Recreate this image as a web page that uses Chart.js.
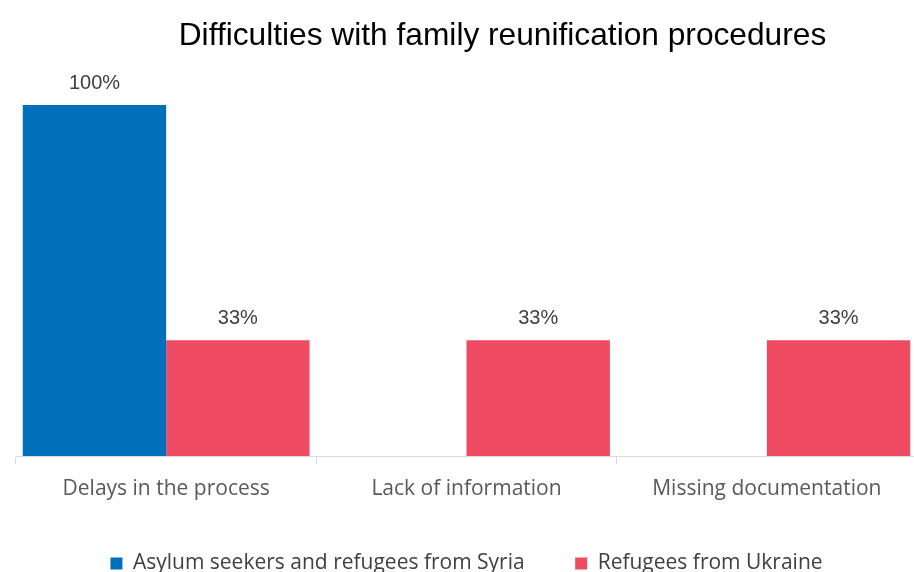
<!DOCTYPE html>
<html>
<head>
  <title>Difficulties with family reunification procedures</title>
  <meta charset="utf-8">
  <script src="https://cdn.jsdelivr.net/npm/chart.js@4.4.0/dist/chart.umd.min.js"></script>
  <style>
    html, body { margin: 0; padding: 0; overflow: hidden; background: #fff; }
  </style>
</head>
<body>
<canvas id="myChart" width="918" height="584"></canvas>
<script>
  var chartTitle = 'Difficulties with family reunification procedures';
  var categories = ['Delays in the process', 'Lack of information', 'Missing documentation'];
  var seriesNames = ['Asylum seekers and refugees from Syria', 'Refugees from Ukraine'];
  var syriaValues = [100, null, null];
  var ukraineValues = [33, 33, 33];

  // title drawn a bit right of centre, like the original
  var titlePlugin = {
    id: 'titlePlugin',
    afterDraw: function(chart) {
      var ctx = chart.ctx;
      var area = chart.chartArea;
      ctx.save();
      ctx.font = '31.7px "Liberation Sans", Arial, sans-serif';
      ctx.fillStyle = '#000';
      ctx.textAlign = 'center';
      ctx.textBaseline = 'alphabetic';
      ctx.fillText(chartTitle, (area.left + area.right) / 2 + 36, 45);
      ctx.restore();
    }
  };

  // value labels above each bar
  var valueLabels = {
    id: 'valueLabels',
    afterDatasetsDraw: function(chart) {
      var ctx = chart.ctx;
      ctx.save();
      ctx.font = '20px "Liberation Sans", Arial, sans-serif';
      ctx.fillStyle = '#404040';
      ctx.textAlign = 'center';
      ctx.textBaseline = 'alphabetic';
      chart.data.datasets.forEach(function(ds, i) {
        var meta = chart.getDatasetMeta(i);
        meta.data.forEach(function(bar, j) {
          var v = ds.data[j];
          if (v === null || v === undefined) return;
          ctx.fillText(v + '%', bar.x, bar.y - 16);
        });
      });
      ctx.restore();
    }
  };

  var ctx = document.getElementById('myChart').getContext('2d');
  var chart = new Chart(ctx, {
    type: 'bar',
    data: {
      labels: categories,
      datasets: [{
        label: seriesNames[0],
        data: syriaValues,
        backgroundColor: '#0070BA',
        barPercentage: 1,
        categoryPercentage: 0.955
      }, {
        label: seriesNames[1],
        data: ukraineValues,
        backgroundColor: '#EF4B62',
        barPercentage: 1,
        categoryPercentage: 0.955
      }]
    },
    options: {
      responsive: false,
      animation: false,
      layout: {
        padding: { top: 105, left: 16, right: 1, bottom: 0 }
      },
      scales: {
        x: {
          grid: {
            offset: true,
            drawOnChartArea: false,
            color: '#d9d9d9',
            tickLength: 8
          },
          border: { color: '#d9d9d9' },
          ticks: {
            color: '#595959',
            padding: 12,
            font: { family: '"Open Sans", sans-serif', size: 21 }
          },
          afterFit: function(scale) { scale.height = 46.5; }
        },
        y: {
          display: false,
          min: 0,
          max: 100
        }
      },
      plugins: {
        legend: {
          position: 'bottom',
          labels: {
            boxWidth: 12,
            boxHeight: 12,
            padding: 50.5,
            color: '#404040',
            font: { family: '"Open Sans", sans-serif', size: 21 }
          }
        },
        tooltip: { enabled: false }
      }
    },
    plugins: [titlePlugin, valueLabels]
  });
</script>
</body>
</html>
